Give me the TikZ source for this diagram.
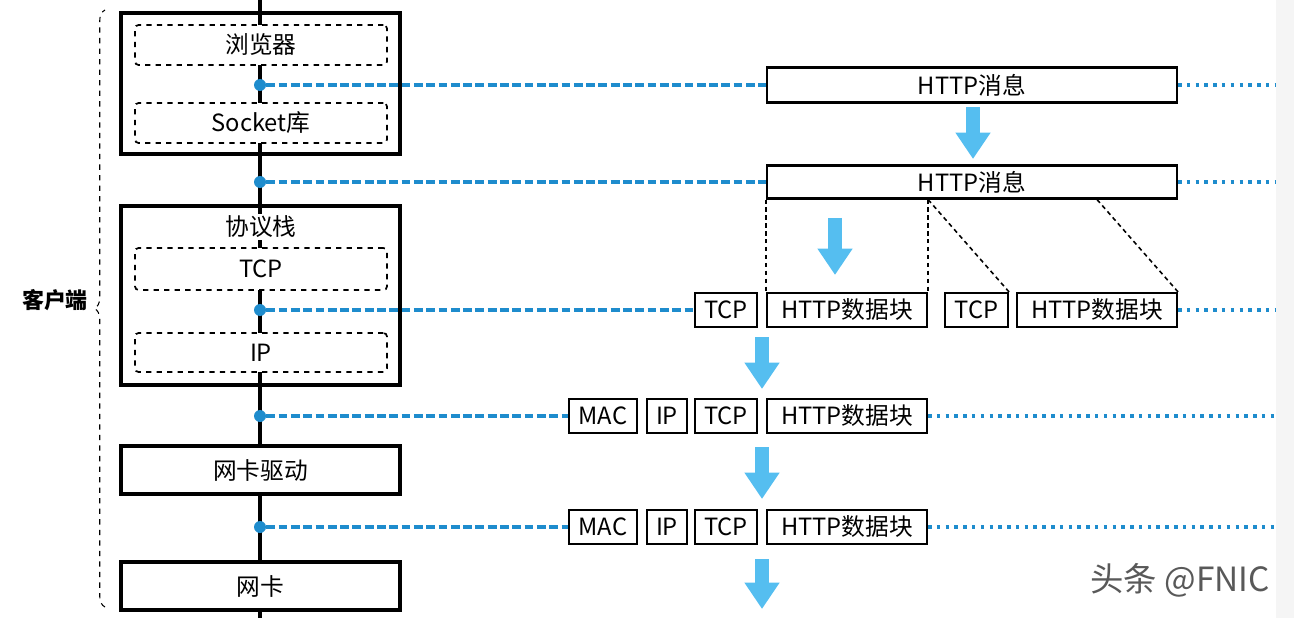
\documentclass[tikz,border=0pt]{standalone}
\usepackage{fontspec}
\setmainfont{Noto Sans CJK SC}
\usepackage{xcolor}
\usetikzlibrary{arrows.meta,decorations.pathreplacing}
\definecolor{linkblue}{RGB}{30,140,205}
\definecolor{arrowblue}{RGB}{85,190,240}

\begin{document}
\begin{tikzpicture}
        [x=0.02cm, y=-0.02cm, font=\fontsize{13.5}{16}\selectfont,
        ostyle/.style={draw, line width=2.2pt, inner sep=0pt, minimum width=5.58cm},
        istyle/.style={draw, dashed, line width=1pt, fill=white, rounded corners=2pt, inner sep=0pt, minimum width=5.04cm, minimum height=0.8cm},
        pstyle/.style={draw, line width=1.2pt, fill=white, inner sep=0pt, minimum height=0.68cm},
        vstyle/.style={circle, fill=linkblue, inner sep=0pt, minimum size=0.24cm},
        lstyle/.style={linkblue, line width=2.1pt, dash pattern=on 5pt off 2pt},
        rstyle/.style={linkblue, line width=2.1pt, dash pattern=on 2pt off 3pt},
        sstyle/.style={line width=0.9pt, dash pattern=on 2.5pt off 2pt},
        astyle/.style={-{Triangle[width=19pt,length=15pt]}, line width=8.5pt, arrowblue}]

        \useasboundingbox (0,0) rectangle (1294,618);
        \fill[gray!8] (1276,0) rectangle (1294,618);

        % client side stack
        \coordinate (spinetop) at (260,0);
        \coordinate (spinebot) at (260,618);
        \draw[line width=2.2pt] (spinetop) -- (spinebot);

        \node[ostyle, minimum height=2.82cm] (app)   at (260.5,83.5) {};
        \node[istyle] (browser) at (261,45)  {浏览器};
        \node[istyle] (socket)  at (261,123) {Socket库};

        \node[ostyle, minimum height=3.58cm] (stack) at (260.5,295.5) {};
        \node[fill=white, inner sep=1pt] (stacklabel) at (261,227) {协议栈};
        \node[istyle, minimum height=0.84cm] (tcp) at (261,269)   {TCP};
        \node[istyle, minimum height=0.78cm] (ip)  at (261,352.5) {IP};

        \node[ostyle, fill=white, minimum height=0.96cm] (driver) at (260.5,470) {网卡驱动};
        \node[ostyle, fill=white, minimum height=0.96cm] (nic)    at (260.5,586) {网卡};

        \node[vstyle] (dot1) at (260,85)  {};
        \node[vstyle] (dot2) at (260,182) {};
        \node[vstyle] (dot3) at (260,310) {};
        \node[vstyle] (dot4) at (260,416) {};
        \node[vstyle] (dot5) at (260,527) {};

        \draw[decorate, decoration={brace, amplitude=6pt}, dashed, line width=0.6pt] (105,607) -- (105,10);
        \node[font=\fontsize{12.5}{14}\selectfont\bfseries] (client) at (55,300) {客户端};

        % packets
        \node[pstyle, minimum width=8.2cm, minimum height=0.7cm] (msgA) at (972,85) {HTTP消息};
        \node[pstyle, minimum width=8.2cm, minimum height=0.66cm] (msgB) at (972,182) {HTTP消息};

        \node[pstyle, minimum width=1.24cm] (tcpA) at (726,310)    {TCP};
        \node[pstyle, minimum width=3.2cm]  (datA) at (847,310)    {HTTP数据块};
        \node[pstyle, minimum width=1.26cm] (tcpB) at (976.5,310)  {TCP};
        \node[pstyle, minimum width=3.2cm]  (datB) at (1097,310)   {HTTP数据块};

        \node[pstyle, minimum width=1.36cm] (macC) at (603,416) {MAC};
        \node[pstyle, minimum width=0.8cm]  (ipC)  at (667,416) {IP};
        \node[pstyle, minimum width=1.24cm] (tcpC) at (726,416) {TCP};
        \node[pstyle, minimum width=3.2cm]  (datC) at (847,416) {HTTP数据块};

        \node[pstyle, minimum width=1.36cm] (macD) at (603,527) {MAC};
        \node[pstyle, minimum width=0.8cm]  (ipD)  at (667,527) {IP};
        \node[pstyle, minimum width=1.24cm] (tcpD) at (726,527) {TCP};
        \node[pstyle, minimum width=3.2cm]  (datD) at (847,527) {HTTP数据块};

        \coordinate (endA) at (1275,85);
        \coordinate (endB) at (1275,182);
        \coordinate (endC) at (1275,310);
        \coordinate (endD) at (1275,416);
        \coordinate (endE) at (1275,527);

        \draw[lstyle] (dot1) -- (msgA.west);
        \draw[lstyle] (dot2) -- (msgB.west);
        \draw[lstyle] (dot3) -- (tcpA.west);
        \draw[lstyle] (dot4) -- (macC.west);
        \draw[lstyle] (dot5) -- (macD.west);
        \draw[rstyle] (msgA.east) -- (endA);
        \draw[rstyle] (msgB.east) -- (endB);
        \draw[rstyle] (datB.east) -- (endC);
        \draw[rstyle] (datC.east) -- (endD);
        \draw[rstyle] (datD.east) -- (endE);

        % split of the message
        \draw[sstyle] (datA.north west |- msgB.south) -- (datA.north west);
        \draw[sstyle] (datA.north east |- msgB.south) -- (datA.north east);
        \draw[sstyle] (datA.north east |- msgB.south) -- (tcpB.north east);
        \draw[sstyle] (datB.north |- msgB.south) -- (datB.north east);

        \draw[astyle] (973,107) -- (973,159);
        \draw[astyle] (835,218) -- (835,275);
        \draw[astyle] (762,337) -- (762,389);
        \draw[astyle] (762,447) -- (762,499);
        \draw[astyle] (762,559) -- (762,609);

        \node[gray!70!black, font=\fontsize{19}{22}\selectfont] (mark) at (1180,580) {头条 @FNIC};
    \end{tikzpicture}
\end{document}
